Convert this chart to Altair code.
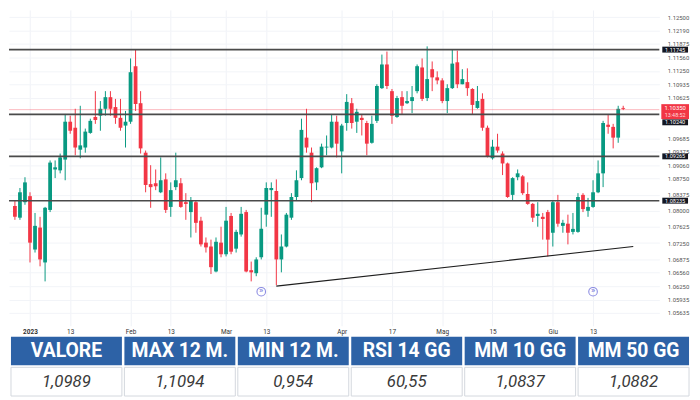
import altair as alt
import pandas as pd

GREEN = "#089981"
RED = "#f23645"
BLUE = "#2d62a6"

# ---- daily candles (EUR/USD, late Dec 2022 -> Jun 2023) ----
opens = [1.0811, 1.0784, 1.0820, 1.0834, 1.0710, 1.0761, 1.0680, 1.0802, 1.0896, 1.0894,
         1.0919, 1.1007, 1.0993, 1.0942, 1.0947, 1.0981, 1.1018, 1.1021, 1.1037, 1.1064,
         1.1041, 1.1016, 1.0998, 1.1007, 1.1136, 1.1050, 1.0935, 1.0862, 1.0864, 1.0843,
         1.0873, 1.0809, 1.0855, 1.0864, 1.0820, 1.0797, 1.0820, 1.0777, 1.0726, 1.0717,
         1.0659, 1.0726, 1.0699, 1.0788, 1.0712, 1.0745, 1.0797, 1.0662, 1.0655, 1.0692,
         1.0791, 1.0848, 1.0846, 1.0687, 1.0717, 1.0784, 1.0832, 1.0876, 1.0970, 1.0935,
         1.0866, 1.0901, 1.0947, 1.0947, 1.1007, 1.0938, 1.1004, 1.1050, 1.1007, 1.1016,
         1.1004, 1.0958, 1.1009, 1.1085, 1.1140, 1.1078, 1.1018, 1.1064, 1.1050, 1.1055,
         1.1078, 1.1133, 1.1062, 1.1129, 1.1110, 1.1103, 1.1055, 1.1085, 1.1145, 1.1094,
         1.1099, 1.1083, 1.1039, 1.1060, 1.0993, 1.0922, 1.0949, 1.0933, 1.0910, 1.0837,
         1.0878, 1.0880, 1.0839, 1.0816, 1.0788, 1.0786, 1.0797, 1.0749, 1.0820, 1.0765,
         1.0770, 1.0751, 1.0751, 1.0837, 1.0800, 1.0809, 1.0843, 1.0887, 1.1000, 1.0995,
         1.0970, 1.1039]
highs = [1.0825, 1.0853, 1.0878, 1.0843, 1.0795, 1.0786, 1.0809, 1.0917, 1.0917, 1.0933,
         1.1025, 1.1021, 1.1037, 1.1044, 1.0991, 1.1014, 1.1078, 1.1055, 1.1078, 1.1078,
         1.1060, 1.1060, 1.1032, 1.1154, 1.1175, 1.1078, 1.0940, 1.0906, 1.0896, 1.0924,
         1.0887, 1.0866, 1.0935, 1.0876, 1.0841, 1.0832, 1.0825, 1.0786, 1.0738, 1.0733,
         1.0738, 1.0763, 1.0809, 1.0795, 1.0756, 1.0809, 1.0802, 1.0682, 1.0692, 1.0807,
         1.0866, 1.0866, 1.0873, 1.0745, 1.0795, 1.0841, 1.0894, 1.1014, 1.1037, 1.0947,
         1.0901, 1.0956, 1.0975, 1.1025, 1.1021, 1.1002, 1.1071, 1.1062, 1.1037, 1.1025,
         1.1009, 1.1021, 1.1094, 1.1163, 1.1170, 1.1083, 1.1067, 1.1078, 1.1078, 1.1090,
         1.1140, 1.1154, 1.1182, 1.1147, 1.1124, 1.1108, 1.1094, 1.1175, 1.1172, 1.1129,
         1.1131, 1.1085, 1.1090, 1.1073, 1.0998, 1.0965, 1.0979, 1.0938, 1.0912, 1.0878,
         1.0896, 1.0883, 1.0866, 1.0818, 1.0820, 1.0795, 1.0802, 1.0825, 1.0837, 1.0779,
         1.0791, 1.0795, 1.0841, 1.0841, 1.0830, 1.0871, 1.0917, 1.1009, 1.1025, 1.1002,
         1.1044, 1.1044]
lows = [1.0779, 1.0779, 1.0814, 1.0680, 1.0703, 1.0671, 1.0636, 1.0797, 1.0876, 1.0887,
        1.0871, 1.0979, 1.0929, 1.0922, 1.0935, 1.0979, 1.1002, 1.0986, 1.1021, 1.1021,
        1.1002, 1.0986, 1.0947, 1.1002, 1.1032, 1.0933, 1.0843, 1.0807, 1.0848, 1.0841,
        1.0795, 1.0786, 1.0848, 1.0807, 1.0779, 1.0738, 1.0749, 1.0717, 1.0703, 1.0653,
        1.0657, 1.0692, 1.0694, 1.0699, 1.0703, 1.0740, 1.0657, 1.0636, 1.0648, 1.0687,
        1.0763, 1.0786, 1.0627, 1.0657, 1.0715, 1.0779, 1.0825, 1.0871, 1.0935, 1.0820,
        1.0848, 1.0899, 1.0929, 1.0945, 1.0924, 1.0887, 1.0986, 1.0991, 1.0981, 1.0975,
        1.0929, 1.0956, 1.1004, 1.1083, 1.1083, 1.1002, 1.1016, 1.1025, 1.1048, 1.1027,
        1.1073, 1.1055, 1.1055, 1.1078, 1.1094, 1.1050, 1.1027, 1.1083, 1.1085, 1.1094,
        1.1067, 1.1025, 1.1037, 1.0986, 1.0924, 1.0919, 1.0935, 1.0883, 1.0830, 1.0825,
        1.0871, 1.0837, 1.0814, 1.0774, 1.0763, 1.0733, 1.0694, 1.0717, 1.0763, 1.0749,
        1.0722, 1.0745, 1.0749, 1.0797, 1.0786, 1.0807, 1.0841, 1.0855, 1.0979, 1.0945,
        1.0958, 1.1034]
closes = [1.0786, 1.0843, 1.0866, 1.0726, 1.0765, 1.0687, 1.0807, 1.0912, 1.0901, 1.0924,
          1.1007, 1.0986, 1.0947, 1.0952, 1.0984, 1.1009, 1.1011, 1.1037, 1.1064, 1.1037,
          1.1016, 1.0993, 1.1007, 1.1122, 1.1048, 1.0945, 1.0860, 1.0855, 1.0857, 1.0871,
          1.0802, 1.0848, 1.0871, 1.0809, 1.0816, 1.0825, 1.0772, 1.0722, 1.0715, 1.0669,
          1.0728, 1.0699, 1.0777, 1.0705, 1.0751, 1.0793, 1.0659, 1.0657, 1.0687, 1.0758,
          1.0853, 1.0853, 1.0687, 1.0717, 1.0791, 1.0832, 1.0871, 1.0988, 1.0947, 1.0864,
          1.0899, 1.0949, 1.0949, 1.1007, 1.0956, 1.0998, 1.1053, 1.1004, 1.1030, 1.1011,
          1.0956, 1.1002, 1.1090, 1.1140, 1.1090, 1.1021, 1.1062, 1.1044, 1.1055, 1.1064,
          1.1136, 1.1060, 1.1106, 1.1110, 1.1103, 1.1055, 1.1085, 1.1142, 1.1094, 1.1106,
          1.1085, 1.1046, 1.1055, 1.0993, 1.0926, 1.0949, 1.0940, 1.0910, 1.0832, 1.0876,
          1.0887, 1.0841, 1.0816, 1.0784, 1.0793, 1.0781, 1.0733, 1.0820, 1.0770, 1.0772,
          1.0749, 1.0758, 1.0832, 1.0804, 1.0809, 1.0843, 1.0887, 1.1004, 1.0995, 1.0970,
          1.1037, 1.1037]

# horizontal support / resistance levels
levels = [1.11745, 1.09265, 1.08235]
level_pushed = [1.10240]
level_labels = ["1.11745", "1.09265", "1.08235"]
level_pushed_labels = ["1.10240"]
last_price = [1.10350]
last_price_labels = ["1.10350"]
countdown_labels = ["13:48:52"]

# rising trendline
trend_i = [52, 123]
trend_v = [1.0625, 1.0717]

# event markers
event_i = [49, 115]
event_v = [1.0612, 1.0612]

# axes
y_ticks = [1.12500, 1.12190, 1.11875, 1.11560, 1.11250, 1.10935, 1.10625, 1.09685,
           1.09375, 1.09060, 1.08750, 1.08375, 1.08000, 1.07625, 1.07250, 1.06875,
           1.06560, 1.06250, 1.05935, 1.05635]
x_tick_pos = [3, 11, 23, 31, 42, 50, 65, 75, 85, 95, 107, 115]
x_tick_lab = ["2023", "13", "Feb", "13", "Mar", "13", "Apr", "17", "Mag", "15", "Giu", "13"]

# table
headers = ["VALORE", "MAX 12 M.", "MIN 12 M.", "RSI 14 GG", "MM 10 GG", "MM 50 GG"]
values = ["1,0989", "1,1094", "0,954", "60,55", "1,0837", "1,0882"]

# ---------------------------------------------------------------
df = pd.DataFrame({"i": list(range(len(opens))), "open": opens, "high": highs,
                   "low": lows, "close": closes})
df["dir"] = ["up" if c >= o else "down" for o, c in zip(opens, closes)]

xs = alt.Scale(domain=[-0.194, 127.2], nice=False, zero=False)
ys = alt.Scale(domain=[1.05329, 1.12666], nice=False, zero=False)

label_expr = "[" + ",".join("'%s'" % s for s in x_tick_lab) + "][indexof([" + \
    ",".join(str(v) for v in x_tick_pos) + "], datum.value)]"

x_axis = alt.Axis(values=x_tick_pos, labelExpr=label_expr, title=None, ticks=False,
                  domain=False, grid=True, gridColor="#f0f2f7", labelFontSize=6.5,
                  labelColor="#333", labelPadding=3, labelFont="Roboto",
                  labelOverlap=False,
                  labelFontWeight=alt.ExprRef("datum.value == 3 ? 'bold' : 'normal'"))


def y_axis():
    return alt.Axis(values=y_ticks, format=".5f", orient="right", title=None, ticks=False,
                    domain=False, grid=True, gridColor="#f2f4f8", labelFontSize=6,
                    labelColor="#555", labelPadding=8, labelFont="Roboto",
                    labelOverlap=False, labelSeparation=0)


def Y(field):
    return alt.Y(field, scale=ys, axis=y_axis())


color = alt.Color("dir:N", scale=alt.Scale(domain=["up", "down"], range=[GREEN, RED]),
                  legend=None)

base = alt.Chart(df).encode(x=alt.X("i:Q", scale=xs, axis=x_axis), color=color)
wicks = base.mark_rule(strokeWidth=1).encode(y=Y("low:Q"), y2="high:Q")
bodies = base.mark_bar(size=3.8).encode(y=Y("open:Q"), y2="close:Q")

lv = alt.Chart(pd.DataFrame({"level": levels, "lab": level_labels}))
lvp = alt.Chart(pd.DataFrame({"level": level_pushed, "lab": level_pushed_labels}))
lp = alt.Chart(pd.DataFrame({"level": last_price, "lab": last_price_labels,
                             "cd": countdown_labels}))

level_rules = lv.mark_rule(color="#4a4a4a", strokeWidth=1.6).encode(y=Y("level:Q"))
level_rules2 = lvp.mark_rule(color="#4a4a4a", strokeWidth=1.6).encode(y=Y("level:Q"))
price_rule = lp.mark_rule(color=RED, strokeWidth=1, opacity=0.35).encode(y=Y("level:Q"))

trend = alt.Chart(pd.DataFrame({"i": trend_i, "v": trend_v})).mark_line(
    color="#1e1e1e", strokeWidth=1.1).encode(x="i:Q", y=Y("v:Q"))

events = alt.Chart(pd.DataFrame({"i": event_i, "v": event_v})).mark_point(
    shape="circle", filled=False, color="#5b5bd6", size=75, strokeWidth=1.1).encode(
    x="i:Q", y=Y("v:Q"))
events_in = alt.Chart(pd.DataFrame({"i": event_i, "v": event_v})).mark_text(
    text="»", color="#5b5bd6", fontSize=7, dy=-0.5).encode(x="i:Q", y=Y("v:Q"))

BOX = "M-1,-0.23H1V0.23H-1Z"
BOX2 = "M-1,-0.54H1V0.54H-1Z"
box_x = alt.value(673)
lab_box = lv.mark_point(shape=BOX, size=676, filled=True, color="#131722", opacity=1,
                        strokeWidth=0).encode(x=box_x, y=Y("level:Q"))
lab_txt = lv.mark_text(color="white", fontSize=5.6, font="Roboto").encode(
    x=box_x, y=Y("level:Q"), text="lab:N")
labp_box = lvp.mark_point(shape=BOX, size=676, filled=True, color="#131722", opacity=1,
                          strokeWidth=0, yOffset=8).encode(x=box_x, y=Y("level:Q"))
labp_txt = lvp.mark_text(color="white", fontSize=5.6, font="Roboto", yOffset=8).encode(
    x=box_x, y=Y("level:Q"), text="lab:N")
lp_box = lp.mark_point(shape=BOX2, size=784, filled=True, color=RED, opacity=1,
                       strokeWidth=0, yOffset=2).encode(x=box_x, y=Y("level:Q"))
lp_txt = lp.mark_text(color="white", fontSize=6, font="Roboto", yOffset=-1.5).encode(
    x=box_x, y=Y("level:Q"), text="lab:N")
lp_txt2 = lp.mark_text(color="#ffd9dc", fontSize=5.5, font="Roboto", yOffset=5.5).encode(
    x=box_x, y=Y("level:Q"), text="cd:N")

candles = alt.layer(
    wicks, bodies, level_rules, level_rules2, price_rule, trend, events, events_in,
    lab_box, lab_txt, labp_box, labp_txt, lp_box, lp_txt, lp_txt2
).properties(width=657, height=319)

# ---- table ----
tbl = pd.DataFrame({"col": list(range(len(headers))) * 2,
                    "row": ["h"] * len(headers) + ["v"] * len(values),
                    "txt": headers + values})
xb = alt.X("col:O", scale=alt.Scale(range=[2, 687], paddingInner=0.022, paddingOuter=0),
           axis=None)
yb = alt.Y("row:N", scale=alt.Scale(domain=["h", "v"], range=[0, 60], paddingInner=0.065,
                                    paddingOuter=0), axis=None)
tb = alt.Chart(tbl).encode(x=xb, y=yb)
head_rect = tb.transform_filter(alt.datum.row == "h").mark_rect(color=BLUE)
val_rect = tb.transform_filter(alt.datum.row == "v").mark_rect(
    fill="white", stroke="#d3d8de", strokeWidth=1)
head_txt = tb.transform_filter(alt.datum.row == "h").mark_text(
    font="Roboto", fontWeight="bold", fontSize=19.5, color="white").encode(text="txt:N")
val_txt = tb.transform_filter(alt.datum.row == "v").mark_text(
    font="Roboto", fontStyle="italic", fontSize=17, color="#3a3a3a").encode(text="txt:N")
table = alt.layer(head_rect, val_rect, head_txt, val_txt).properties(width=690, height=60)

chart = alt.vconcat(candles, table, spacing=1).properties(
    padding=0, background="white").configure_view(stroke=None).configure_axis(
    labelOverlap=False)

chart.save("out.html", embed_options={"renderer": "svg", "actions": False})
